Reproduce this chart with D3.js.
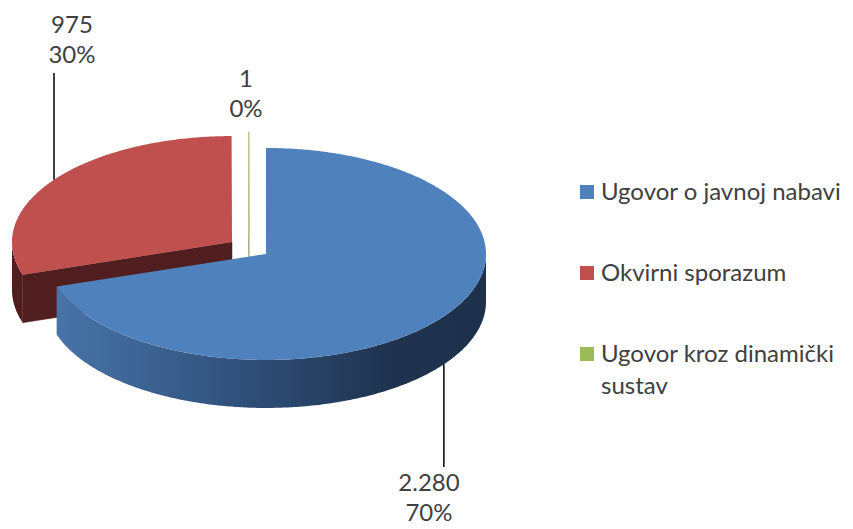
<!DOCTYPE html>
<html>
<head>
<meta charset="utf-8">
<script src="https://cdn.jsdelivr.net/npm/d3@7"></script>
<style>
  body { margin: 0; background: #fff; }
  text { font-family: Lato, "Open Sans", sans-serif; fill: #404040; }
</style>
</head>
<body>
<svg id="chart" width="853" height="529"></svg>
<script>
/////////////////////////////////////////////////
/* Data */
/////////////////////////////////////////////////
const categories = ["Ugovor o javnoj nabavi", "Okvirni sporazum", "Ugovor kroz dinamički sustav"];
const values = [2280, 975, 1];
const valueLabels = ["2.280", "975", "1"];
const percentLabels = ["70%", "30%", "0%"];
const legendLines = [["Ugovor o javnoj nabavi"], ["Okvirni sporazum"], ["Ugovor kroz dinamički", "sustav"]];

/////////////////////////////////////////////////
/* Layout / style */
/////////////////////////////////////////////////
const cx = 249, cy = 248;      // pie centre
const rx = 220, ry = 106;      // ellipse radii of the top face
const depth = 48;              // thickness of the pie
const explode = 21;
const topColors = ["#4f81bd", "#c0504d", "#9bbb59"];
const faceColors = ["#1f3550", "#501e1e", "#6a8a3a"];
const labelPos = [{x: 429, y: 491}, {x: 72, y: 33}, {x: 246, y: 87}];
const labelGap = 30;

const svg = d3.select("#chart");
const defs = svg.append("defs");

// side gradient for the blue slice
const grad = defs.append("linearGradient")
    .attr("id", "side-0")
    .attr("gradientUnits", "userSpaceOnUse")
    .attr("x1", cx - rx).attr("x2", cx + rx + explode).attr("y1", 0).attr("y2", 0);
grad.append("stop").attr("offset", "0%").attr("stop-color", "#4c79b0");
grad.append("stop").attr("offset", "45%").attr("stop-color", "#30517b");
grad.append("stop").attr("offset", "78%").attr("stop-color", "#1f3350");
grad.append("stop").attr("offset", "100%").attr("stop-color", "#1e314b");

const pie = d3.pie().sort(null).startAngle(0).endAngle(2 * Math.PI);
const arcs = pie(values);

// point on rim of ellipse for slice centre c
function rim(c, a, dy = 0) {
    return [c.x + rx * Math.sin(a), c.y - ry * Math.cos(a) + dy];
}

function arcPoints(c, a0, a1, dy) {
    const n = Math.max(2, Math.ceil(Math.abs(a1 - a0) / 0.01));
    return d3.range(n + 1).map(i => rim(c, a0 + (a1 - a0) * i / n, dy));
}

const line = d3.line();

// slice centres after exploding
arcs.forEach(d => {
    const mid = (d.startAngle + d.endAngle) / 2;
    d.mid = mid;
    d.c = {x: cx + explode * Math.sin(mid), y: cy - explode * (ry / rx) * Math.cos(mid)};
});

// painter's order: back slices first
const order = [1, 2, 0];
const g = svg.append("g");

order.forEach(i => {
    const d = arcs[i];
    const c = d.c;
    const a0 = d.startAngle, a1 = d.endAngle;
    const sg = g.append("g");

    // start cut face
    if (Math.sin(a0) < 0) {
        const p = [[c.x, c.y], rim(c, a0), rim(c, a0, depth), [c.x, c.y + depth]];
        sg.append("path").attr("d", line(p) + "Z")
            .attr("fill", faceColors[i]).attr("stroke", faceColors[i]).attr("stroke-width", 0.5);
    }
    // end cut face
    if (Math.sin(a1) > 0.001) {
        const p = [[c.x, c.y], rim(c, a1), rim(c, a1, depth), [c.x, c.y + depth]];
        sg.append("path").attr("d", line(p) + "Z").attr("fill", faceColors[i]);
    }
    // outer side (front half only)
    const s = Math.max(a0, Math.PI / 2), e = Math.min(a1, 3 * Math.PI / 2);
    if (e > s) {
        const p = arcPoints(c, s, e, 0).concat(arcPoints(c, e, s, depth));
        sg.append("path").attr("d", line(p) + "Z")
            .attr("fill", i === 0 ? "url(#side-0)" : faceColors[i]);
    }
    // top face
    const top = [[c.x, c.y]].concat(arcPoints(c, a0, a1, 0));
    sg.append("path").attr("d", line(top) + "Z")
        .attr("fill", topColors[i])
        .attr("stroke", i === 2 ? "#b8cf8c" : "none")
        .attr("stroke-width", 1);
});

/////////////////////////////////////////////////
/* Data labels and leader lines */
/////////////////////////////////////////////////
arcs.forEach((d, i) => {
    const lp = labelPos[i];
    const front = Math.cos(d.mid) < 0;
    if (i !== 2) {
        const p = rim(d.c, d.mid, front ? depth : 0);
        const yEnd = front ? lp.y - 24 : lp.y + labelGap + 10;
        svg.append("line")
            .attr("x1", p[0]).attr("y1", p[1])
            .attr("x2", p[0]).attr("y2", yEnd)
            .attr("stroke", "#000").attr("stroke-width", 1.5);
    }
    svg.append("text").attr("x", lp.x).attr("y", lp.y)
        .attr("text-anchor", "middle").attr("font-size", 24)
        .text(valueLabels[i]);
    svg.append("text").attr("x", lp.x).attr("y", lp.y + labelGap)
        .attr("text-anchor", "middle").attr("font-size", 24)
        .text(percentLabels[i]);
});

/////////////////////////////////////////////////
/* Legend */
/////////////////////////////////////////////////
const legendY = d3.scalePoint().domain(categories).range([185, 347]);
const legend = svg.append("g").selectAll("g")
    .data(categories).join("g")
    .attr("transform", d => `translate(580,${legendY(d)})`);

legend.append("rect")
    .attr("width", 14).attr("height", 14)
    .attr("fill", (d, i) => topColors[i]);

legend.append("text")
    .attr("x", 21).attr("y", 15)
    .attr("font-size", 24)
    .selectAll("tspan")
    .data((d, i) => legendLines[i])
    .join("tspan")
    .attr("x", 21)
    .attr("dy", (t, j) => j === 0 ? 0 : 32)
    .text(t => t);
</script>
</body>
</html>
